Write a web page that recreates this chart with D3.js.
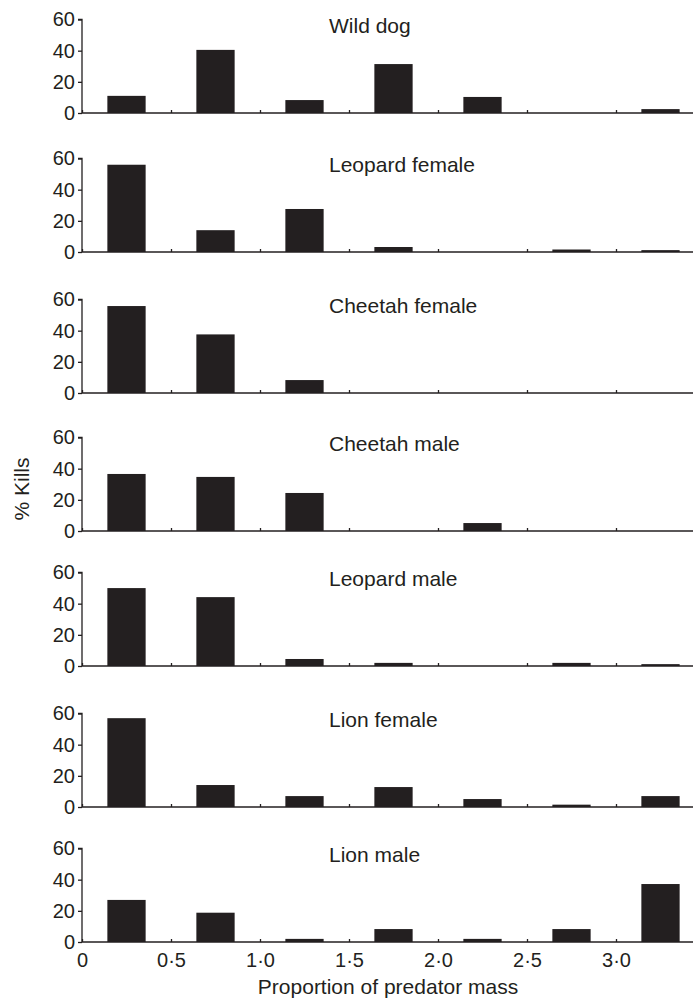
<!DOCTYPE html>
<html lang="en">

<head>
  <meta charset="UTF-8">
  <title>Kills by proportion of predator mass</title>
  <script src="https://d3js.org/d3.v7.min.js"></script>
  <style>
    body {
      margin: 0;
      background: #fff;
    }

    text {
      font-family: "Liberation Sans", Arial, sans-serif;
      fill: #231f20;
    }
  </style>
</head>

<body>
  <div class="chartContainer"></div>

  <script>
    // bin centres (proportion of predator mass)
    const bins = [0.25, 0.75, 1.25, 1.75, 2.25, 2.75, 3.25]
    const xTicks = [0, 0.5, 1.0, 1.5, 2.0, 2.5, 3.0]
    const yTicks = [0, 20, 40, 60]

    const predators = ['Wild dog', 'Leopard female', 'Cheetah female', 'Cheetah male',
      'Leopard male', 'Lion female', 'Lion male']

    // % kills per bin
    const wildDog = [11, 40.5, 8.3, 31.4, 10.3, 0, 2.5]
    const leopardFemale = [56, 14, 27.6, 3.2, 0, 1.6, 1.2]
    const cheetahFemale = [55.8, 37.6, 8.3, 0, 0, 0, 0]
    const cheetahMale = [36.6, 34.7, 24.4, 0, 5.1, 0, 0]
    const leopardMale = [50, 44.2, 4.5, 2, 0, 2, 1.2]
    const lionFemale = [57, 14.1, 7, 12.8, 5.1, 1.5, 7]
    const lionMale = [27, 18.8, 2, 8.3, 2, 8.3, 37.2]

    const series = [wildDog, leopardFemale, cheetahFemale, cheetahMale, leopardMale, lionFemale, lionMale]

    const width = 693,
      height = 1005
    const ink = '#231f20'

    const svg = d3.select('.chartContainer')
      .append('svg')
      .attr('width', width)
      .attr('height', height)

    // x: 0 at the y axis, 178px per unit
    const x = d3.scaleLinear().domain([0, 3.5]).range([82, 82 + 3.5 * 178])
    const barW = x(0.215) - x(0)

    // baseline (y of 0) of every panel, page layout
    const baselines = [113, 252, 393, 531, 666, 807, 942]
    const panelH = 93.5

    const fmt = d => d === 0 ? '0' : d3.format('.1f')(d).replace('.', '·')

    series.forEach((vals, i) => {
      const base = baselines[i]
      const y = d3.scaleLinear().domain([0, 60]).range([base, base - panelH])
      const g = svg.append('g')

      // bars
      g.selectAll('rect')
        .data(vals)
        .enter()
        .append('rect')
        .attr('x', (d, j) => x(bins[j]) - barW / 2)
        .attr('width', barW)
        .attr('y', d => y(d))
        .attr('height', d => y(0) - y(d))
        .attr('fill', ink)

      // y axis
      const ya = g.append('g')
        .attr('transform', `translate(${x(0)},0)`)
        .call(d3.axisLeft(y).tickValues(yTicks).tickSize(4).tickPadding(3))
      ya.select('.domain').attr('stroke', ink).attr('stroke-width', 1.3)
        .attr('d', `M-4,${y(60)}H0V${y(0)}`)
      ya.selectAll('.tick line').attr('stroke', ink).attr('stroke-width', 1.3)
      ya.selectAll('.tick text').attr('font-size', 20).attr('fill', ink)
        .attr('font-family', '"Liberation Sans", Arial, sans-serif')

      // x axis
      const last = i === series.length - 1
      const xa = g.append('g')
        .attr('transform', `translate(0,${y(0)})`)
        .call(d3.axisBottom(x).tickValues(xTicks).tickSize(-3).tickSizeOuter(0)
          .tickPadding(11).tickFormat(last ? fmt : ''))
      xa.select('.domain').attr('stroke', ink).attr('stroke-width', 1.3)
        .attr('d', `M${x(0)},0H${width}`)
      xa.selectAll('.tick line').attr('stroke', ink).attr('stroke-width', 1.3)
      xa.selectAll('.tick text').attr('font-size', 20).attr('fill', ink)
        .attr('font-family', '"Liberation Sans", Arial, sans-serif')

      // panel title
      g.append('text')
        .attr('x', 329)
        .attr('y', base - 80)
        .attr('font-size', 21)
        .text(predators[i])
    })

    // axis titles
    svg.append('text')
      .attr('x', 388)
      .attr('y', 994)
      .attr('text-anchor', 'middle')
      .attr('font-size', 21)
      .text('Proportion of predator mass')

    svg.append('text')
      .attr('transform', 'translate(29,489) rotate(-90)')
      .attr('text-anchor', 'middle')
      .attr('font-size', 21)
      .text('% Kills')
  </script>
</body>

</html>
